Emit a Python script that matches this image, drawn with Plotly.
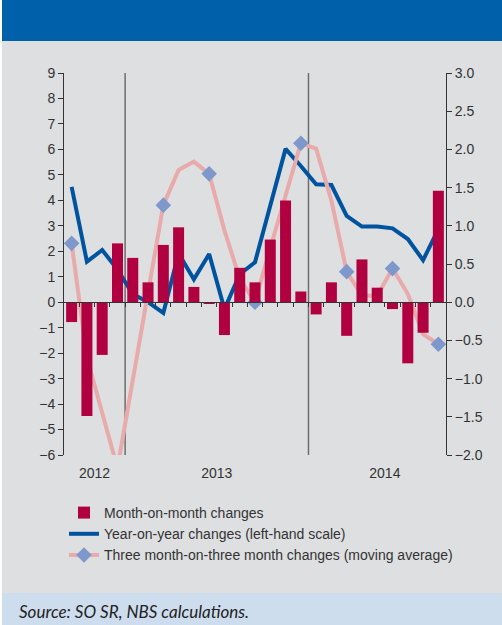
import plotly.graph_objects as go

# ---------------- data ----------------
months = ["2012-09", "2012-10", "2012-11", "2012-12",
          "2013-01", "2013-02", "2013-03", "2013-04", "2013-05", "2013-06",
          "2013-07", "2013-08", "2013-09", "2013-10", "2013-11", "2013-12",
          "2014-01", "2014-02", "2014-03", "2014-04", "2014-05", "2014-06",
          "2014-07", "2014-08", "2014-09"]

# month-on-month changes (right-hand scale)
mom = [-0.26, -1.49, -0.69, 0.77, 0.58, 0.26, 0.75, 0.98, 0.20, -0.02,
       -0.43, 0.45, 0.26, 0.82, 1.33, 0.14, -0.16, 0.26, -0.44, 0.56,
       0.19, -0.09, -0.80, -0.40, 1.46]

# year-on-year changes (left-hand scale)
yoy = [4.53, 1.59, 2.05, 1.28, 0.32, 0.00, -0.42, 1.91, 0.90, 1.89,
       -0.27, 1.10, 1.57, 3.86, 6.02, 5.35, 4.63, 4.60, 3.39, 2.97,
       2.97, 2.90, 2.48, 1.65, 2.87]

# three month-on-three month changes, moving average (right-hand scale)
m3m3 = [0.77, -0.72, -1.45, -2.17, -1.02, 0.13, 1.27, 1.73, 1.84, 1.68,
        0.94, 0.31, 0.00, 0.71, 1.41, 2.08, 2.01, 1.33, 0.40, 0.085,
        0.085, 0.44, 0.11, -0.42, -0.55]

year_ticks = [1.5, 9.5, 20.5]
year_labels = ["2012", "2013", "2014"]

left_ticks = list(range(-6, 10))
right_ticks = [-2.0, -1.5, -1.0, -0.5, 0.0, 0.5, 1.0, 1.5, 2.0, 2.5, 3.0]

# ---------------- styling ----------------
W, H = 502, 625
ML, MR, MT, MB = 64, 56, 73, 170
PW, PH = W - ML - MR, H - MT - MB

def px_x(p):
    return (p - ML) / PW

def px_y(p):
    return (H - MB - p) / PH

BG = "#DEDFE1"
AX = "#333333"
FONT = "Liberation Sans"

xs = list(range(len(months)))
diamond_y = [v if i % 3 == 0 else None for i, v in enumerate(m3m3)]

fig = go.Figure()
fig.add_trace(go.Bar(x=xs, y=mom, xaxis="x3", yaxis="y2",
                     marker=dict(color="#B0003F", line=dict(width=0)),
                     name="Month-on-month changes"))
fig.add_trace(go.Scatter(x=xs, y=yoy, mode="lines", xaxis="x", yaxis="y",
                         line=dict(color="#00549F", width=4),
                         name="Year-on-year changes (left-hand scale)"))
fig.add_trace(go.Scatter(x=xs, y=m3m3, mode="lines", xaxis="x", yaxis="y2",
                         line=dict(color="#E8AAAA", width=4),
                         showlegend=False, hoverinfo="skip"))
fig.add_trace(go.Scatter(x=xs, y=diamond_y, mode="lines+markers", xaxis="x", yaxis="y2",
                         connectgaps=False,
                         line=dict(color="#E8AAAA", width=4),
                         marker=dict(symbol="diamond", size=12, color="#7F98CC"),
                         name="Three month-on-three month changes (moving average)"))

# year separators
shapes = []
for i in range(1, len(months)):
    if months[i][:4] != months[i - 1][:4]:
        shapes.append(dict(type="line", xref="x", yref="paper", x0=i - 0.5, x1=i - 0.5,
                           y0=0, y1=1, line=dict(color="#6E6E6E", width=1.5), layer="below"))
# background bands
shapes.append(dict(type="rect", xref="paper", yref="paper", x0=px_x(0), x1=px_x(W),
                   y0=px_y(41), y1=px_y(0), fillcolor="#0060AA", line=dict(width=0), layer="below"))
shapes.append(dict(type="rect", xref="paper", yref="paper", x0=px_x(0), x1=px_x(W),
                   y0=px_y(H), y1=px_y(593), fillcolor="#CEDDEE", line=dict(width=0), layer="below"))
shapes.append(dict(type="rect", xref="paper", yref="paper", x0=px_x(0), x1=px_x(2),
                   y0=px_y(H), y1=px_y(0), fillcolor="#FFFFFF", line=dict(width=0), layer="below"))

fig.update_layout(
    width=W, height=H,
    margin=dict(l=ML, r=MR, t=MT, b=MB),
    paper_bgcolor=BG, plot_bgcolor="rgba(0,0,0,0)",
    font=dict(family=FONT, size=14, color=AX),
    bargap=0.28,
    showlegend=True,
    legend=dict(x=px_x(64), y=px_y(497), xanchor="left", yanchor="top",
                bgcolor="rgba(0,0,0,0)", font=dict(family=FONT, size=14, color=AX),
                traceorder="normal", tracegroupgap=0),
    xaxis=dict(range=[-0.5, len(months) - 0.5], tickvals=year_ticks, ticktext=year_labels,
               ticks="outside", ticklen=5, tickcolor="rgba(0,0,0,0)", showline=False,
               showgrid=False, zeroline=False, tickfont=dict(size=14, color=AX)),
    xaxis3=dict(range=[-0.5, len(months) - 0.5], overlaying="x", anchor="free",
                position=6 / 15, tickvals=[i + 0.5 for i in range(len(months) - 1)],
                ticks="outside", ticklen=4, tickcolor=AX, showticklabels=False,
                showline=True, linecolor=AX, linewidth=1, showgrid=False, zeroline=False),
    yaxis=dict(range=[-6, 9], tickvals=left_ticks, ticks="outside", ticklen=5,
               tickcolor=AX, showline=True, linecolor=AX, linewidth=1, showgrid=False,
               zeroline=False, tickfont=dict(size=14, color=AX)),
    yaxis2=dict(range=[-2, 3], tickvals=right_ticks, tickformat=".1f", overlaying="y",
                side="right", ticks="outside", ticklen=5, tickcolor=AX, showline=True,
                linecolor=AX, linewidth=1, showgrid=False, zeroline=False,
                tickfont=dict(size=14, color=AX)),
    shapes=shapes,
    annotations=[dict(text="<i>Source: SO SR, NBS calculations.</i>", xref="paper", yref="paper",
                      x=px_x(17), y=px_y(611), xanchor="left", yanchor="middle", showarrow=False,
                      font=dict(family="Lato", size=17, color="#222222"))],
)

fig.write_html("out.html", config={"displayModeBar": False},
               post_script="document.body.style.margin='0';document.body.style.overflow='hidden';")
